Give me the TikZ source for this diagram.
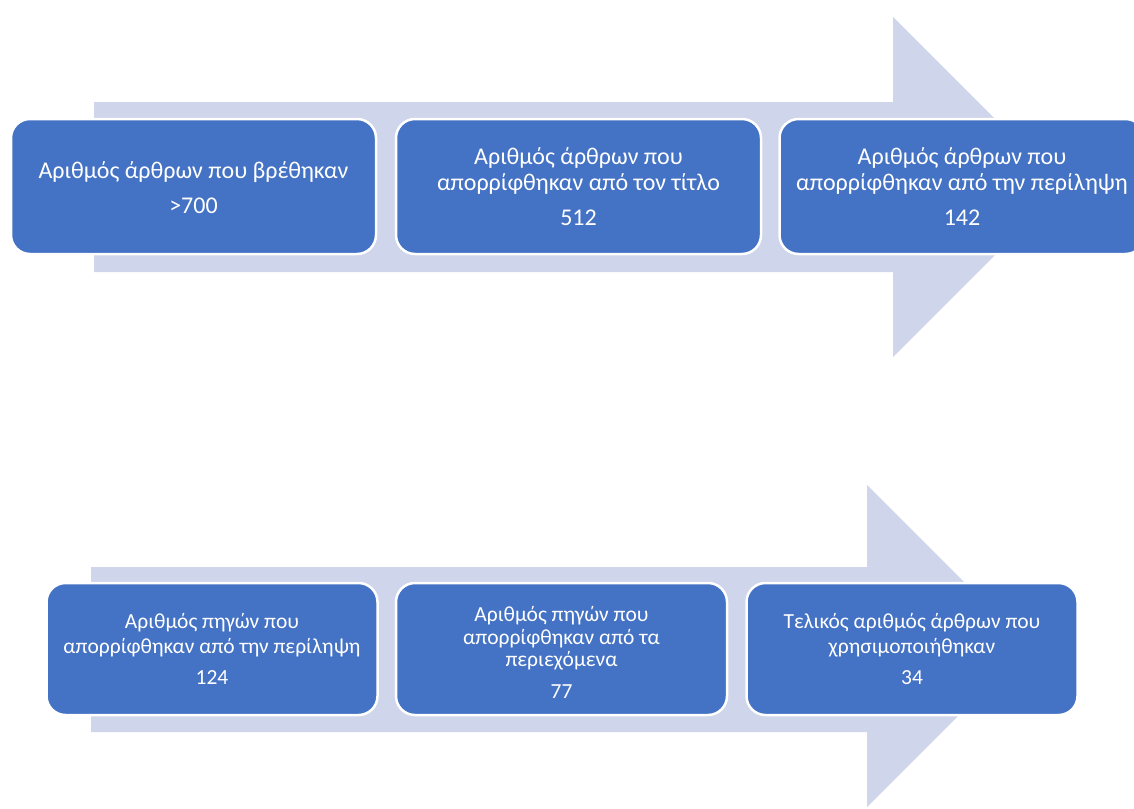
\documentclass[tikz,border=0pt]{standalone}
\usepackage{fontspec}
\setmainfont{Carlito}
\definecolor{boxblue}{HTML}{4472C4}
\definecolor{arrowfill}{HTML}{CFD5EA}
\begin{document}
\begin{tikzpicture}[x=1pt,y=-1pt,
  bigarrow/.style={fill=arrowfill,draw=none},
  stepbox/.style={draw=white,line width=2.5pt,fill=boxblue,rounded corners=19pt,
    text=white,align=center,inner sep=0pt},
  topbox/.style={stepbox,minimum width=365pt,minimum height=135pt,
    font=\fontsize{24}{26}\selectfont},
  botbox/.style={stepbox,minimum width=331pt,minimum height=132pt,
    font=\fontsize{21.5}{25}\selectfont}]
\useasboundingbox (0,0) rectangle (1134,808);
% arrows
\fill[bigarrow] (94,102) -- (893,102) -- (893,17) -- (1063,187) -- (893,357) -- (893,272) -- (94,272) -- cycle;
\fill[bigarrow] (91,567) -- (867,567) -- (867,485) -- (1028,646) -- (867,807) -- (867,732) -- (91,732) -- cycle;
% top row
\node[topbox] (t1) at (193.5,186.5) {\rule{0pt}{20pt}Αριθμός άρθρων που βρέθηκαν\\[9pt] >700};
\node[topbox] (t2) at (578.5,186.5) {Αριθμός άρθρων που\\ απορρίφθηκαν από τον τίτλο\\[9pt] 512};
\node[topbox] (t3) at (962,186.5) {Αριθμός άρθρων που\\ απορρίφθηκαν από την περίληψη\\[9pt] 142};
% bottom row
\node[botbox] (b1) at (212,649) {Αριθμός πηγών που\\ απορρίφθηκαν από την περίληψη\\[6pt] 124};
\node[botbox,font=\fontsize{21.5}{22.5}\selectfont] (b2) at (561.5,649) {\rule{0pt}{22pt}Αριθμός πηγών που\\ απορρίφθηκαν από τα\\ περιεχόμενα\\[9.5pt] 77};
\node[botbox] (b3) at (912,649) {Τελικός αριθμός άρθρων που\\ χρησιμοποιήθηκαν\\[6pt] 34};
\end{tikzpicture}
\end{document}
